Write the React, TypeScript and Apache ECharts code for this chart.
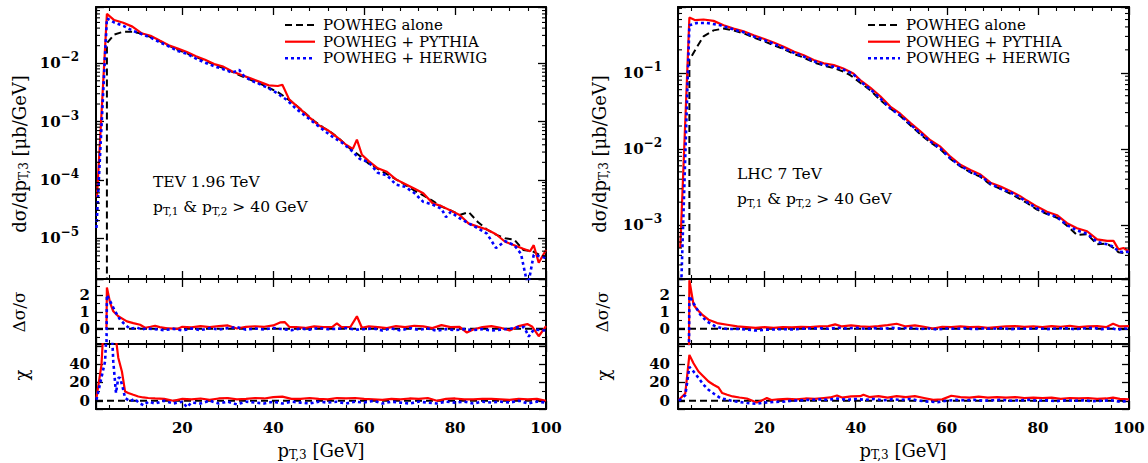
import React, { useEffect, useRef } from 'react';
import * as echarts from 'echarts';

// ---------- axes ----------
const X_RANGE = [1, 100];
const xTickLabels = ['20', '40', '60', '80', '100'];
const tevLogRange = [2e-6, 0.092];
const lhcLogRange = [1.96e-4, 0.73];
const tevLogTickExps = [-5, -4, -3, -2];
const lhcLogTickExps = [-3, -2, -1];
const minorMultipliers = [2, 3, 4, 5, 6, 7, 8, 9];
const ratioRange = [-0.9, 2.95];
const ratioTickLabels = ['0', '1', '2'];
const chiRange = [-9, 62];
const chiTickLabels = ['0', '20', '40'];

const legendLabels = ['POWHEG alone', 'POWHEG + PYTHIA', 'POWHEG + HERWIG'];
const tevNote = ['TEV 1.96 TeV', '> 40 GeV'];
const lhcNote = ['LHC 7 TeV', '> 40 GeV'];

// ---------- TEV 1.96 TeV : d sigma / d pT3 ----------
const tevBlackMain = [[3.4, 1e-9], [3.4, 0.022], [5, 0.031], [7, 0.0347], [9, 0.0347], [11, 0.0324], [13, 0.0282], [15, 0.024], [17, 0.02], [19, 0.017], [21, 0.0148], [23, 0.0129], [25, 0.011], [27, 0.0095], [29, 0.0083], [31, 0.0071], [33, 0.006], [35, 0.0052], [37, 0.0045], [39, 0.0038], [41, 0.0032], [43, 0.0025], [45, 0.0019], [47, 0.0014], [49, 0.00102], [51, 7.9e-4], [53, 6.3e-4], [55, 4.7e-4], [57, 3.4e-4], [59, 2.6e-4], [61, 1.9e-4], [63, 1.55e-4], [65, 1.26e-4], [67, 1.02e-4], [69, 8.3e-5], [71, 6.6e-5], [73, 5.4e-5], [75, 4.4e-5], [77, 3.5e-5], [79, 3.0e-5], [81, 2.5e-5], [83, 2.8e-5], [85, 1.9e-5], [87, 1.41e-5], [89, 1.15e-5], [91, 1.0e-5], [93, 9.5e-6], [95, 6.3e-6], [97, 6.0e-6], [99, 5.0e-6], [100, 4.8e-6]];
const tevRedMain = [[1.2, 4.9e-5], [3.4, 0.07], [5, 0.055], [7, 0.0495], [9, 0.0424], [11, 0.0327], [13, 0.0295], [15, 0.0245], [17, 0.0204], [19, 0.0178], [21, 0.0155], [23, 0.0132], [25, 0.0115], [27, 0.00966], [29, 0.00875], [31, 0.00724], [33, 0.0063], [35, 0.0055], [37, 0.00479], [39, 0.00417], [41, 0.00407], [42, 0.00427], [43.5, 0.0024], [46, 0.00162], [48, 0.00117], [50, 8.7e-4], [52, 7.1e-4], [54, 5.4e-4], [56, 4.0e-4], [57.5, 3.4e-4], [58.4, 4.9e-4], [59.5, 2.7e-4], [61, 2.1e-4], [63, 1.58e-4], [65, 1.38e-4], [67, 1.02e-4], [69, 8.5e-5], [71, 7.1e-5], [73, 5.9e-5], [75, 4.0e-5], [77, 3.55e-5], [79, 3.0e-5], [81, 2.5e-5], [83, 1.78e-5], [85, 1.58e-5], [87, 1.41e-5], [89, 1.17e-5], [91, 8.7e-6], [93, 7.6e-6], [95, 6.6e-6], [96.5, 6.0e-6], [97.3, 7.6e-6], [98.4, 3.8e-6], [100, 6.3e-6]];
const tevBlueMain = [[1.1, 1.5e-5], [3.4, 0.059], [5, 0.05], [7, 0.0437], [9, 0.0363], [11, 0.0316], [13, 0.0275], [15, 0.0229], [17, 0.0195], [19, 0.0162], [21, 0.0145], [23, 0.012], [25, 0.0102], [27, 0.0089], [29, 0.0079], [31, 0.0069], [32.5, 0.0077], [33.5, 0.0061], [35, 0.0051], [37, 0.0044], [39, 0.0037], [41, 0.003], [43, 0.00234], [45, 0.00166], [47, 0.00126], [49, 9.5e-4], [51, 7.2e-4], [53, 5.5e-4], [55, 4.4e-4], [57, 3.3e-4], [59, 2.3e-4], [61, 2.0e-4], [63, 1.32e-4], [65, 1.2e-4], [67, 8.3e-5], [69, 7.6e-5], [71, 6.0e-5], [73, 4.2e-5], [75, 3.8e-5], [77, 3.2e-5], [78, 2.3e-5], [79, 2.8e-5], [81, 2.2e-5], [83, 1.8e-5], [85, 1.48e-5], [87, 1.2e-5], [89, 6.8e-6], [91, 8.9e-6], [93, 7.6e-6], [94.5, 5.4e-6], [96, 1.5e-6], [97.3, 5.2e-6], [99.5, 4.7e-6], [100, 4.5e-6]];

// ---------- TEV : delta sigma / sigma ----------
const tevBlackRatio = [[1, 0], [100, 0]];
const tevRedRatio = [[3.3, 0], [3.4, 2.45], [4.1, 1.54], [4.8, 1.04], [5.9, 0.74], [7.8, 0.44], [9.2, 0.34], [10.7, 0.24], [11.8, 0.06], [13, 0.12], [14, 0.18], [15, 0.1], [17, 0.02], [19, 0.0], [20, 0.12], [22, 0.08], [24, 0.16], [26, 0.1], [28, 0.16], [30, 0.2], [32, 0.02], [34, 0.12], [36, 0.15], [38, 0.12], [40, 0.2], [41.5, 0.38], [42.5, 0.4], [43.5, 0.12], [45, 0.1], [47, 0.05], [49, 0.14], [51, 0.1], [53, 0.12], [54, 0.32], [55, 0.1], [57, 0.12], [58.4, 0.74], [59.5, 0.06], [61, 0.14], [63, 0.1], [65, 0.04], [67, 0.16], [69, 0.1], [71, 0.18], [73, 0.14], [75, 0.04], [77, 0.22], [79, 0.1], [81, 0.12], [82.6, -0.22], [84, -0.04], [86, 0.1], [88, 0.16], [90, 0.06], [92, -0.1], [94, 0.16], [95.9, 0.28], [97, 0.12], [98.4, -0.44], [100, 0.16]];
const tevBlueRatio = [[3.3, -1.5], [3.4, 2.0], [4.1, 1.64], [5.2, 1.04], [6.3, 0.54], [7.4, 0.24], [8.5, 0.0], [10, 0.08], [11, -0.05], [12, 0.02], [14, -0.02], [16, -0.08], [18, 0.0], [20, -0.1], [22, 0.02], [24, -0.08], [26, 0.04], [28, -0.05], [30, 0.04], [32, 0.1], [34, -0.05], [36, 0.02], [38, -0.04], [40, 0.05], [42, -0.02], [44, -0.08], [46, 0.02], [48, -0.05], [50, 0.05], [52, -0.02], [54, 0.0], [56, 0.04], [58, -0.05], [60, -0.02], [62, 0.02], [64, -0.1], [66, 0.02], [68, -0.1], [70, 0.04], [72, -0.06], [74, 0.02], [76, -0.12], [78, -0.02], [80, -0.08], [82, -0.02], [84, -0.08], [86, -0.02], [88, -0.1], [90, -0.05], [92, 0.0], [94, 0.1], [95.2, 0.1], [96.2, -0.46], [97.3, -0.05], [99, -0.08], [100, -0.1]];

// ---------- TEV : chi ----------
const tevBlackChi = [[1, 0], [100, 0]];
const tevRedChi = [[1.1, 3], [2.2, 39], [2.6, 75], [5.2, 75], [5.9, 47], [6.7, 32], [7.4, 10], [8.1, 8.4], [9.2, 6.5], [10.3, 4.7], [11.4, 3.6], [12.5, 3], [14, 2.5], [16, 2], [18, 0], [20, 2], [22, 1.5], [24, 2.5], [26, 1], [28, 2.5], [30, 3], [32, 1.5], [34, 2], [36, 3], [38, 2.5], [40, 4], [42, 4.5], [44, 2], [46, 2], [48, 3], [50, 2], [52, 1.5], [54, 3], [56, 2.5], [58, 3], [60, 2], [62, 1.5], [64, 1], [66, 2], [68, 1.5], [70, 2.5], [72, 2], [74, 3], [76, 0], [78, 2], [80, 2.5], [82, 1.5], [84, 1.5], [86, 2], [88, 2], [90, 1.5], [92, 1], [94, 2], [96, 1.5], [98, 2], [100, 0]];
const tevBlueChi = [[1.1, 1], [2, 21], [3, 43], [3.3, 75], [4.5, 75], [4.8, 43], [5.4, 8.4], [5.9, 25], [6.3, 25], [6.9, 14], [7.4, 3], [8.5, -0.5], [9.5, 2], [10.5, -2.5], [11.5, -5], [12.5, -1], [14, -3], [16, 0], [18, -3], [20, -1], [21, -7], [22, -2], [24, -3], [26, 0], [28, -3], [30, -1], [32, -4], [34, -1], [36, -2], [38, -3], [40, -1], [42, -3], [44, -1], [46, -2], [48, -3], [50, -1], [52, -2], [54, -1], [56, -3], [58, -1], [60, -2], [62, 0], [64, -3], [66, -1], [68, -2], [70, -3], [72, -1], [74, -2], [76, -3], [78, -1], [80, -2], [82, -1], [84, -3], [86, -1], [88, -2], [90, -1], [92, -2], [94, 0], [96, -3], [98, -1], [100, -2]];

// ---------- LHC 7 TeV : d sigma / d pT3 ----------
const lhcBlackMain = [[3.5, 1e-9], [3.5, 0.147], [5.2, 0.22], [6.6, 0.3], [8.8, 0.36], [11, 0.38], [13.2, 0.36], [15.4, 0.33], [17.6, 0.29], [19.8, 0.26], [22, 0.23], [24.2, 0.205], [26.4, 0.177], [28.6, 0.158], [30.8, 0.137], [33, 0.124], [35.2, 0.115], [37.3, 0.104], [38.8, 0.093], [41, 0.074], [43.2, 0.059], [45.4, 0.044], [47.6, 0.034], [49.8, 0.027], [52, 0.0205], [54.2, 0.0155], [56.4, 0.0122], [58.6, 0.0099], [60.8, 0.0074], [63, 0.0059], [65.2, 0.0049], [67.4, 0.0043], [69.6, 0.0034], [71.8, 0.003], [73.9, 0.0026], [76.1, 0.0022], [77.6, 0.00195], [79.8, 0.0016], [82, 0.0014], [84.2, 0.00125], [86.4, 9.8e-4], [88.6, 7.4e-4], [90.8, 7.6e-4], [93, 5.6e-4], [95.2, 5.7e-4], [96.6, 5.0e-4], [97.7, 4.4e-4], [98.8, 4.3e-4], [100, 4.4e-4]];
const lhcRedMain = [[1.5, 5e-4], [3.5, 0.53], [4.8, 0.49], [6.6, 0.5], [8.8, 0.48], [11, 0.42], [13.2, 0.38], [15.4, 0.35], [17.6, 0.31], [19.8, 0.28], [22, 0.25], [24.2, 0.22], [26.4, 0.19], [28.6, 0.17], [30.8, 0.147], [33, 0.133], [35.2, 0.126], [37.3, 0.114], [39.5, 0.098], [41, 0.08], [43.2, 0.064], [45.4, 0.049], [47.6, 0.036], [49.8, 0.029], [52, 0.022], [54.2, 0.017], [56.4, 0.013], [58.6, 0.0107], [60.8, 0.0079], [63, 0.0062], [65.2, 0.0053], [67.4, 0.0046], [69.6, 0.0036], [71.8, 0.0032], [73.9, 0.0028], [76.1, 0.0024], [77.6, 0.0021], [79.8, 0.00175], [82, 0.0015], [84.2, 0.00135], [86.4, 0.00106], [88.6, 9.1e-4], [90.8, 8.3e-4], [93, 6.5e-4], [95.2, 6.2e-4], [96.6, 6.2e-4], [97.7, 4.8e-4], [98.8, 5.0e-4], [100, 4.5e-4]];
const lhcBlueMain = [[1.6, 1e-4], [3.5, 0.42], [5.2, 0.45], [7.3, 0.45], [10.3, 0.42], [13.2, 0.37], [15.4, 0.34], [17.6, 0.3], [19.8, 0.27], [22, 0.24], [24.2, 0.21], [26.4, 0.183], [28.6, 0.163], [30.8, 0.142], [33, 0.128], [35.2, 0.12], [37.3, 0.11], [39.5, 0.096], [41, 0.077], [43.2, 0.061], [45.4, 0.046], [47.6, 0.034], [49.8, 0.0275], [52, 0.021], [54.2, 0.016], [56.4, 0.0125], [58.6, 0.0101], [60.8, 0.0075], [63, 0.006], [65.2, 0.005], [67.4, 0.0044], [69.6, 0.0035], [71.8, 0.003], [73.9, 0.0027], [76.1, 0.0023], [77.6, 0.002], [79.8, 0.00165], [82, 0.00142], [84.2, 0.00128], [86.4, 0.001], [88.6, 8.5e-4], [90.8, 7.7e-4], [93, 6.0e-4], [95.2, 5.6e-4], [96.6, 5.2e-4], [97.7, 4.5e-4], [98.8, 4.4e-4], [100, 4.5e-4]];

// ---------- LHC : delta sigma / sigma ----------
const lhcBlackRatio = [[1, 0], [100, 0]];
const lhcRedRatio = [[3.4, -1.5], [3.5, 2.88], [4.4, 1.44], [5.2, 1.14], [6.3, 0.84], [7.7, 0.54], [9.6, 0.34], [11.8, 0.24], [14, 0.14], [16, 0.1], [18, 0.06], [20, 0.1], [22, 0.06], [24, 0.1], [26, 0.08], [28, 0.12], [30, 0.1], [32, 0.14], [34, 0.16], [35.5, 0.26], [37, 0.14], [39, 0.2], [41, 0.14], [43, 0.12], [45, 0.16], [47, 0.22], [49, 0.3], [51, 0.14], [53, 0.2], [55, 0.12], [57, 0.02], [59, 0.12], [61, 0.1], [63, 0.14], [65, 0.1], [67, 0.12], [69, 0.06], [71, 0.1], [73, 0.14], [75, 0.16], [77, 0.12], [79, 0.14], [81, 0.1], [83, 0.16], [85, 0.12], [87, 0.18], [89, 0.1], [91, 0.14], [93, 0.16], [95, 0.1], [96.5, 0.3], [98, 0.14], [100, 0.16]];
const lhcBlueRatio = [[3.4, -1.5], [3.5, 1.94], [4.8, 1.34], [5.9, 0.84], [7.3, 0.44], [9.2, 0.14], [10.5, 0.04], [12, -0.02], [14, 0.0], [16, -0.04], [18, -0.1], [20, -0.06], [22, -0.04], [24, -0.02], [26, -0.04], [28, 0.0], [30, 0.02], [32, 0.04], [34, 0.0], [36, 0.06], [38, 0.02], [40, 0.06], [42, 0.0], [44, 0.04], [46, 0.0], [48, 0.06], [50, 0.02], [52, 0.06], [54, -0.02], [56, 0.02], [58, -0.04], [60, 0.02], [62, 0.0], [64, 0.04], [66, -0.02], [68, 0.02], [70, 0.0], [72, 0.04], [74, -0.02], [76, 0.02], [78, 0.0], [80, 0.04], [82, -0.02], [84, 0.02], [86, 0.04], [88, -0.02], [90, 0.02], [92, 0.06], [94, -0.02], [96, 0.04], [97.5, -0.06], [99, 0.02], [100, 0.0]];

// ---------- LHC : chi ----------
const lhcBlackChi = [[1, 0], [100, 0]];
const lhcRedChi = [[1.2, 1], [2.6, 8], [3.5, 50], [4.4, 41], [5.5, 32], [6.6, 26.5], [7.7, 21], [8.8, 17.5], [9.9, 14.5], [10.7, 8.4], [11.8, 6.5], [13, 4.7], [14.5, 3.6], [16.1, 2.5], [18.3, -2], [19.5, 0.5], [20.5, 3], [21.5, 0.8], [23, 1.5], [25, 2], [27, 1.5], [29, 2.5], [31, 2], [33, 3], [34.4, 3.6], [35.9, 5.8], [37, 3.5], [39, 4.7], [41, 5], [41.7, 6.5], [43, 4], [45, 5], [47, 3.5], [49, 5], [51, 4], [53, 5], [55, 3], [57, 1], [59, 1.5], [61, 5.5], [63, 4], [65, 3.5], [67, 4.5], [69, 3.5], [71, 4], [73, 3.5], [75, 4], [77, 3], [79, 3.5], [81, 3], [83, 3.5], [85, 2], [87, 3], [89, 2.5], [91, 3], [93, 2], [95, 2.5], [96.5, 3.5], [98, 2], [100, 1.5]];
const lhcBlueChi = [[1.2, 0], [2.6, 6], [3.5, 37], [4.4, 32], [5.5, 25], [6.6, 17.5], [7.7, 12], [9.2, 6.5], [10.3, 3], [11.5, 1.5], [12.7, 0], [14, -1], [16.1, -2.5], [18.3, -3.3], [20, -2], [22, -1.4], [24, -1], [26, 0], [28, 0.5], [30, 1], [32, 1.5], [34, 1], [36, 2.5], [38, 1], [40, 2], [42, 1], [44, 2], [46, 0.5], [48, 1.5], [50, 1], [52, 2], [54, 0], [56, -1], [58, -1.5], [60, 0], [62, 1], [64, 0.5], [66, 1], [68, 0], [70, 0.5], [72, 1], [74, 0], [76, 0.5], [78, 1], [80, 0], [82, 0.5], [84, -0.5], [86, 0.5], [88, 0], [90, 0.5], [92, -0.5], [94, 0], [96, 0.5], [98, -1], [100, 0]];

// ---------- styling ----------
const FONT = 'DejaVu Serif';
const STYLES: any = {
  black: { color: '#000000', width: 2, type: [7, 4] },
  red: { color: '#ff0000', width: 2.2, type: 'solid' },
  blue: { color: '#0000ff', width: 2.6, type: [3, 3] },
};

const PANELS = [
  { left: 96, width: 450 },
  { left: 678, width: 451 },
];
const ROWS = [
  { top: 7, height: 272 },
  { top: 279, height: 65 },
  { top: 344, height: 65 },
];

function isPow10In(v: number, exps: number[]) {
  const l = Math.log10(v);
  const e = Math.round(l);
  return Math.abs(l - e) < 1e-6 && exps.includes(e);
}

function logMinorTickValues(range: number[]) {
  const out: number[][] = [];
  const lo = Math.floor(Math.log10(range[0]));
  const hi = Math.ceil(Math.log10(range[1]));
  for (let e = lo; e <= hi; e++) {
    minorMultipliers.forEach((m) => {
      const v = m * Math.pow(10, e);
      if (v > range[0] && v < range[1]) out.push([X_RANGE[0], v]);
    });
  }
  return out;
}

function makeXAxes(gridIndex: number, showLabels: boolean) {
  const base: any = {
    type: 'value',
    gridIndex,
    min: X_RANGE[0],
    max: X_RANGE[1],
    splitNumber: 5,
    axisLine: { show: true, onZero: false, lineStyle: { color: '#000', width: 2 } },
    axisTick: { show: true, inside: true, length: 8, lineStyle: { color: '#000', width: 1.3 } },
    minorTick: { show: true, splitNumber: 5, length: 4, lineStyle: { color: '#000', width: 1.1 } },
    splitLine: { show: false },
    minorSplitLine: { show: false },
  };
  return [
    {
      ...base,
      position: 'bottom',
      axisLabel: {
        show: showLabels,
        margin: 11,
        fontFamily: FONT,
        fontWeight: 'bold',
        fontSize: 15,
        color: '#000',
        formatter: (v: number) => (xTickLabels.includes(String(v)) ? String(v) : ''),
      },
    },
    { ...base, position: 'top', axisLabel: { show: false } },
  ];
}

function makeLogYAxes(gridIndex: number, range: number[], exps: number[], margin: number) {
  const base: any = {
    type: 'log',
    logBase: 10,
    gridIndex,
    min: range[0],
    max: range[1],
    axisLine: { show: true, onZero: false, lineStyle: { color: '#000', width: 2 } },
    axisTick: { show: true, inside: true, length: 8, lineStyle: { color: '#000', width: 1.3 } },
    minorTick: { show: false },
    splitLine: { show: false },
    minorSplitLine: { show: false },
  };
  return [
    {
      ...base,
      position: 'left',
      axisLabel: {
        margin,
        color: '#000',
        formatter: (v: number) => {
          if (!isPow10In(v, exps)) return '';
          const e = Math.round(Math.log10(v));
          return '{b|10}{s|' + (e < 0 ? '\u2212' : '') + Math.abs(e) + '}';
        },
        rich: {
          b: { fontFamily: FONT, fontWeight: 'bold', fontSize: 15, lineHeight: 24, color: '#000' },
          s: { fontFamily: FONT, fontWeight: 'bold', fontSize: 12, lineHeight: 24, verticalAlign: 'top', color: '#000' },
        },
      },
    },
    { ...base, position: 'right', axisLabel: { show: false } },
  ];
}

function makeLinYAxes(gridIndex: number, range: number[], labels: string[], minorSplit: number, margin: number) {
  const base: any = {
    type: 'value',
    gridIndex,
    min: range[0],
    max: range[1],
    splitNumber: 4,
    axisLine: { show: true, onZero: false, lineStyle: { color: '#000', width: 2 } },
    axisTick: { show: true, inside: true, length: 7, lineStyle: { color: '#000', width: 1.3 } },
    minorTick: { show: true, splitNumber: minorSplit, length: 4, lineStyle: { color: '#000', width: 1.1 } },
    splitLine: { show: false },
    minorSplitLine: { show: false },
  };
  return [
    {
      ...base,
      position: 'left',
      axisLabel: {
        margin,
        fontFamily: FONT,
        fontWeight: 'bold',
        fontSize: 15,
        color: '#000',
        formatter: (v: number) => (labels.includes(String(v)) ? String(v) : ''),
      },
    },
    { ...base, position: 'right', axisLabel: { show: false } },
  ];
}

function line(name: string, data: number[][], idx: number, style: string, z: number) {
  return {
    type: 'line',
    name,
    data,
    xAxisIndex: idx,
    yAxisIndex: idx,
    showSymbol: false,
    symbol: 'none',
    clip: true,
    silent: true,
    z,
    lineStyle: STYLES[style],
  };
}

function minorTicks(idx: number, range: number[]) {
  return {
    type: 'custom',
    xAxisIndex: idx,
    yAxisIndex: idx,
    silent: true,
    clip: false,
    z: 5,
    data: logMinorTickValues(range),
    renderItem: (params: any, api: any) => {
      const cs = params.coordSys;
      const y = api.coord([api.value(0), api.value(1)])[1];
      const st = { stroke: '#000', lineWidth: 1.1 };
      return {
        type: 'group',
        children: [
          { type: 'line', shape: { x1: cs.x, y1: y, x2: cs.x + 4, y2: y }, style: st },
          { type: 'line', shape: { x1: cs.x + cs.width - 4, y1: y, x2: cs.x + cs.width, y2: y }, style: st },
        ],
      };
    },
  };
}

const richText = {
  a: { fontFamily: FONT, fontSize: 18, lineHeight: 22, color: '#000' },
  s: { fontFamily: FONT, fontSize: 12, lineHeight: 22, verticalAlign: 'bottom', color: '#000' },
};
const richNote = {
  a: { fontFamily: FONT, fontSize: 15.5, lineHeight: 19, color: '#000' },
  s: { fontFamily: FONT, fontSize: 10.5, lineHeight: 19, verticalAlign: 'bottom', color: '#000' },
};

function buildGraphics() {
  const g: any[] = [];
  const legendCfg = [
    { x1: 285, x2: 315, tx: 323 },
    { x1: 868, x2: 900, tx: 906 },
  ];
  const rowsY = [25, 41.7, 58.3];
  const styleKeys = ['black', 'red', 'blue'];
  legendCfg.forEach((c) => {
    styleKeys.forEach((k, i) => {
      const st = STYLES[k];
      g.push({
        type: 'line',
        shape: { x1: c.x1, y1: rowsY[i], x2: c.x2, y2: rowsY[i] },
        style: { stroke: st.color, lineWidth: st.width, lineDash: Array.isArray(st.type) ? st.type : null },
        silent: true,
      });
      g.push({
        type: 'text',
        x: c.tx,
        y: rowsY[i],
        style: {
          text: legendLabels[i],
          fontFamily: FONT,
          fontSize: 15,
          lineHeight: 15,
          fill: '#000',
          textAlign: 'left',
          align: 'left',
          textVerticalAlign: 'middle',
          verticalAlign: 'middle',
        },
        silent: true,
      });
    });
  });

  // annotations
  const notes = [
    { x: 153, y1: 182, y2: 207, lines: tevNote },
    { x: 737, y1: 174, y2: 199, lines: lhcNote },
  ];
  notes.forEach((n) => {
    g.push({
      type: 'text',
      x: n.x,
      y: n.y1,
      style: { text: n.lines[0], fontFamily: FONT, fontSize: 15.5, fill: '#000', align: 'left', textAlign: 'left', verticalAlign: 'middle', textVerticalAlign: 'middle' },
      silent: true,
    });
    g.push({
      type: 'text',
      x: n.x,
      y: n.y2,
      style: {
        text: '{a|p}{s|T,1}{a| & p}{s|T,2}{a| ' + n.lines[1] + '}',
        rich: richNote,
        align: 'left',
        textAlign: 'left',
        verticalAlign: 'middle',
        textVerticalAlign: 'middle',
      },
      silent: true,
    });
  });

  // axis titles
  const titleX = [19, 599];
  const titleXRatio = [19, 602];
  const titleXChi = [21, 603];
  const xTitleCenters = [321, 903];
  for (let p = 0; p < 2; p++) {
    g.push({
      type: 'text',
      x: titleX[p],
      y: 154,
      rotation: Math.PI / 2,
      style: {
        text: '{a|d\u03c3/dp}{s|T,3}{a| [\u03bcb/GeV]}',
        rich: richText,
        align: 'center',
        textAlign: 'center',
        verticalAlign: 'middle',
        textVerticalAlign: 'middle',
      },
      silent: true,
    });
    g.push({
      type: 'text',
      x: titleXRatio[p],
      y: 312,
      rotation: Math.PI / 2,
      style: { text: '\u0394\u03c3/\u03c3', fontFamily: FONT, fontSize: 17, fill: '#000', align: 'center', textAlign: 'center', verticalAlign: 'middle', textVerticalAlign: 'middle' },
      silent: true,
    });
    g.push({
      type: 'text',
      x: titleXChi[p],
      y: 375,
      rotation: Math.PI / 2,
      style: { text: '\u03c7', fontFamily: FONT, fontSize: 18, fill: '#000', align: 'center', textAlign: 'center', verticalAlign: 'middle', textVerticalAlign: 'middle' },
      silent: true,
    });
    g.push({
      type: 'text',
      x: xTitleCenters[p],
      y: 450,
      style: {
        text: '{a|p}{s|T,3}{a| [GeV]}',
        rich: {
          a: { fontFamily: FONT, fontSize: 18, lineHeight: 22, color: '#000' },
          s: { fontFamily: FONT, fontSize: 12, lineHeight: 22, verticalAlign: 'bottom', color: '#000' },
        },
        align: 'center',
        textAlign: 'center',
        verticalAlign: 'middle',
        textVerticalAlign: 'middle',
      },
      silent: true,
    });
  }
  return g;
}

function buildOption() {
  const grids: any[] = [];
  const xAxes: any[] = [];
  const yAxes: any[] = [];
  PANELS.forEach((p) => {
    ROWS.forEach((r) => {
      grids.push({ left: p.left, width: p.width, top: r.top, height: r.height, show: false });
    });
  });
  // grid order: 0 tev main, 1 tev ratio, 2 tev chi, 3 lhc main, 4 lhc ratio, 5 lhc chi
  for (let gi = 0; gi < 6; gi++) {
    const row = gi % 3;
    xAxes.push(...makeXAxes(gi, row === 2));
  }
  yAxes.push(...makeLogYAxes(0, tevLogRange, tevLogTickExps, 17));
  yAxes.push(...makeLinYAxes(1, ratioRange, ratioTickLabels, 2, 6));
  yAxes.push(...makeLinYAxes(2, chiRange, chiTickLabels, 2, 6));
  yAxes.push(...makeLogYAxes(3, lhcLogRange, lhcLogTickExps, 16));
  yAxes.push(...makeLinYAxes(4, ratioRange, ratioTickLabels, 2, 8));
  yAxes.push(...makeLinYAxes(5, chiRange, chiTickLabels, 2, 8));

  const ax = (gi: number) => gi * 2;
  const series: any[] = [
    minorTicks(ax(0), tevLogRange),
    minorTicks(ax(3), lhcLogRange),
    line('POWHEG alone', tevBlackMain, ax(0), 'black', 2),
    line('POWHEG + PYTHIA', tevRedMain, ax(0), 'red', 3),
    line('POWHEG + HERWIG', tevBlueMain, ax(0), 'blue', 4),
    line('POWHEG alone', tevBlackRatio, ax(1), 'black', 2),
    line('POWHEG + PYTHIA', tevRedRatio, ax(1), 'red', 3),
    line('POWHEG + HERWIG', tevBlueRatio, ax(1), 'blue', 4),
    line('POWHEG alone', tevBlackChi, ax(2), 'black', 2),
    line('POWHEG + PYTHIA', tevRedChi, ax(2), 'red', 3),
    line('POWHEG + HERWIG', tevBlueChi, ax(2), 'blue', 4),
    line('POWHEG alone', lhcBlackMain, ax(3), 'black', 2),
    line('POWHEG + PYTHIA', lhcRedMain, ax(3), 'red', 3),
    line('POWHEG + HERWIG', lhcBlueMain, ax(3), 'blue', 4),
    line('POWHEG alone', lhcBlackRatio, ax(4), 'black', 2),
    line('POWHEG + PYTHIA', lhcRedRatio, ax(4), 'red', 3),
    line('POWHEG + HERWIG', lhcBlueRatio, ax(4), 'blue', 4),
    line('POWHEG alone', lhcBlackChi, ax(5), 'black', 2),
    line('POWHEG + PYTHIA', lhcRedChi, ax(5), 'red', 3),
    line('POWHEG + HERWIG', lhcBlueChi, ax(5), 'blue', 4),
  ];

  return {
    animation: false,
    backgroundColor: '#ffffff',
    textStyle: { fontFamily: FONT },
    grid: grids,
    xAxis: xAxes,
    yAxis: yAxes,
    series,
    graphic: buildGraphics(),
  };
}

export default function App() {
  const ref = useRef<HTMLDivElement>(null);
  useEffect(() => {
    if (!ref.current) return;
    const chart = echarts.init(ref.current, null, { renderer: 'svg' });
    chart.setOption(buildOption() as any);
    return () => {
      chart.dispose();
    };
  }, []);
  return (
    <div
      ref={ref}
      style={{ position: 'fixed', left: 0, top: 0, width: 1148, height: 463, background: '#fff' }}
    />
  );
}
